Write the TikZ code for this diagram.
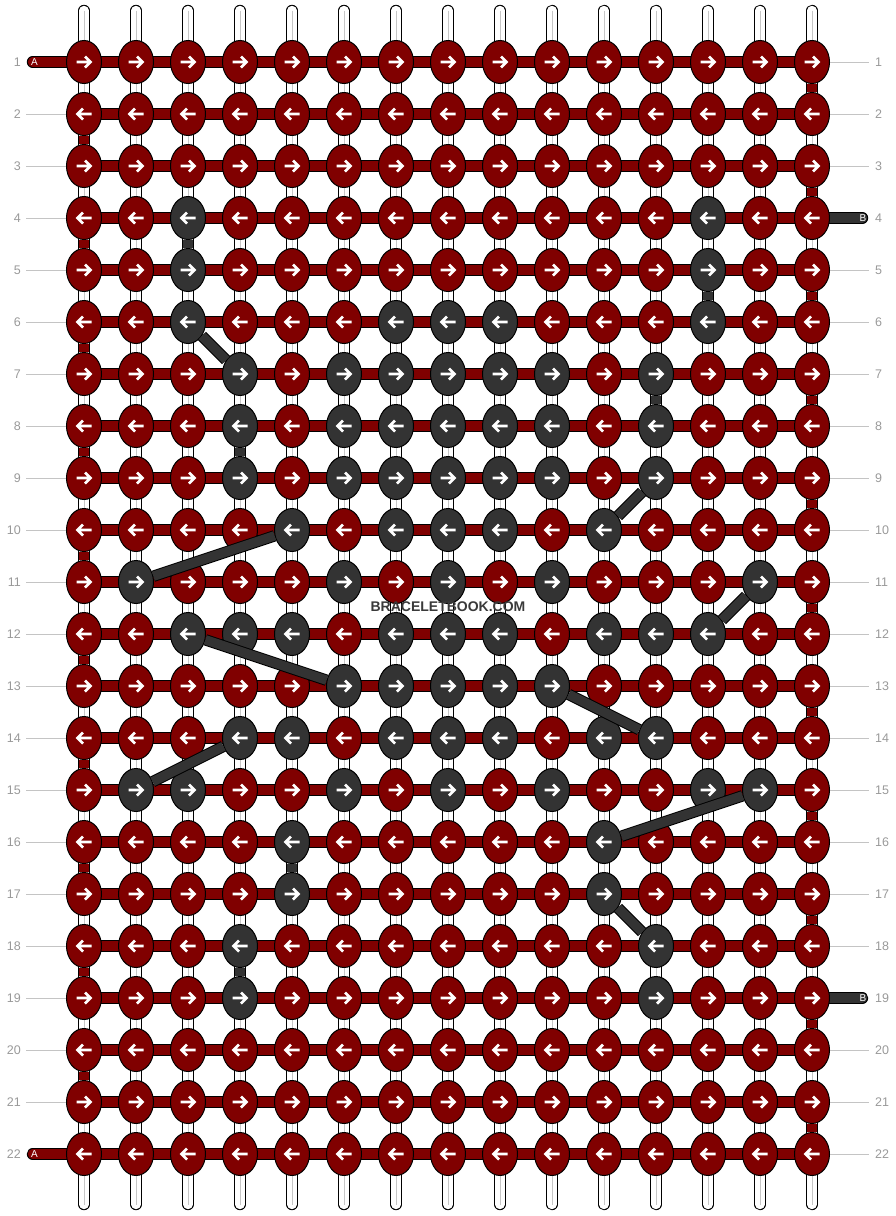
\documentclass[tikz,border=0pt]{standalone}
\usepackage{fontspec}
\setmainfont{Liberation Sans}
\usepackage{tikz}
\usetikzlibrary{shapes.geometric,backgrounds}
\definecolor{knotred}{HTML}{800000}
\definecolor{knotdark}{HTML}{333333}
\definecolor{labelgray}{HTML}{999999}
\definecolor{tickgray}{HTML}{C4C4C4}
\definecolor{markgray}{HTML}{3A3A3A}
\def\drawstrand{\draw[black, line width=11.4pt, line cap=round, postaction={draw=white, line width=9.4pt, line cap=round}]}
\def\drawred{\draw[black, line width=11.4pt, postaction={draw=knotred, line width=9.4pt}]}
\def\drawdark{\draw[black, line width=11.4pt, postaction={draw=knotdark, line width=9.4pt}]}
\def\knotnode{\node[ellipse, draw=black, line width=1pt, minimum width=35pt, minimum height=43pt, inner sep=0pt]}
\tikzset{arr/.pic={\draw[white, line width=2.8pt] (-7.5,0) -- (6.5,0) (1,-5.5) -- (6.5,0) -- (1,5.5);}}

\begin{document}
\begin{tikzpicture}[x=1pt,y=-1pt,
  rowlabel/.style={text=labelgray, font=\fontsize{12.5}{14}\selectfont, inner sep=0pt},
  tick/.style={draw=tickgray, line width=0.8pt},
  pilltext/.style={text=white, font=\fontsize{10}{11}\selectfont, inner sep=0pt}]
\useasboundingbox (0,0) rectangle (896,1216);
% dark knots, row/{columns}
\foreach \ri/\cols in {4/{3,13}, 5/{3,13}, 6/{3,7,8,9,13}, 7/{4,6,7,8,9,10,12},
    8/{4,6,7,8,9,10,12}, 9/{4,6,7,8,9,10,12}, 10/{5,7,8,9,11}, 11/{2,6,8,10,14},
    12/{3,4,5,7,8,9,11,12,13}, 13/{6,7,8,9,10}, 14/{4,5,7,8,9,11,12},
    15/{2,3,6,8,10,13,14}, 16/{5,11}, 17/{5,11}, 18/{4,12}, 19/{4,12}}
  \foreach \ci in \cols {\expandafter\gdef\csname dk\ri-\ci\endcsname{}};
% knots
\foreach \ri in {1,...,22}
  \foreach \ci in {1,...,15} {
    \ifcsname dk\ri-\ci\endcsname \def\kfill{knotdark}\else \def\kfill{knotred}\fi
    \knotnode (k\ri-\ci) [fill=\kfill] at (32+52*\ci, 10+52*\ri) {};
    \ifodd\ri\relax \pic at (k\ri-\ci) {arr}; \else \pic[xscale=-1] at (k\ri-\ci) {arr}; \fi
  }
% strands and rows
\begin{scope}[on background layer]
\foreach \ci in {1,...,15} {
  \coordinate (top\ci) at (32+52*\ci, 10.5);
  \coordinate (bot\ci) at (32+52*\ci, 1204.5);
  \drawstrand (top\ci) -- (bot\ci);
  \draw[gray!45, line width=0.8pt] (top\ci) -- (bot\ci);
}
\foreach \ri in {1,...,22}
  \drawred (k\ri-1.center) -- (k\ri-15.center);
\coordinate (a1) at (32.5,62);
\coordinate (a22) at (32.5,1154);
\coordinate (b4) at (862.5,218);
\coordinate (b19) at (862.5,998);
\drawred[line cap=round] (a1) -- (k1-1.center);
\drawred[line cap=round] (a22) -- (k22-1.center);
\drawdark[line cap=round] (k4-15.center) -- (b4);
\drawdark[line cap=round] (k19-15.center) -- (b19);
\end{scope}
\node[pilltext] (ta1) at (34.5,62) {A};
\node[pilltext] (ta22) at (34.5,1154) {A};
\node[pilltext] (tb4) at (863,218) {B};
\node[pilltext] (tb19) at (863,998) {B};
% turns at the edges
\foreach \ri [evaluate=\ri as \rn using int(\ri+1)] in {2,4,...,20}
  \drawred (k\ri-1) -- (k\rn-1);
\foreach \ri [evaluate=\ri as \rn using int(\ri+1)] in {1,3,...,21}
  \drawred (k\ri-15) -- (k\rn-15);
% dark thread
\foreach \ra/\ca/\rb/\cb in {4/3/5/3, 5/13/6/13, 6/3/7/4, 7/12/8/12, 8/4/9/4,
    9/12/10/11, 10/5/11/2, 11/14/12/13, 12/3/13/6, 13/10/14/12, 14/4/15/2,
    15/14/16/11, 16/5/17/5, 17/11/18/12, 18/4/19/4}
  \drawdark (k\ra-\ca) -- (k\rb-\cb);
% row numbers
\foreach \ri in {1,...,22} {
  \node[rowlabel, anchor=east] (ll\ri) at (21, 10+52*\ri) {\ri};
  \node[rowlabel, anchor=west] (rl\ri) at (875, 10+52*\ri) {\ri};
}
\foreach \ri in {2,...,21}
  \draw[tick, shorten <=5pt] (ll\ri) -- (k\ri-1);
\foreach \ri in {1,2,3,5,6,...,18,20,21,22}
  \draw[tick, shorten >=6pt] (k\ri-15) -- (rl\ri);
\node[text=markgray, font=\bfseries\fontsize{14}{16}\selectfont] (mark) at (448,607) {BRACELETBOOK.COM};
\end{tikzpicture}
\end{document}
